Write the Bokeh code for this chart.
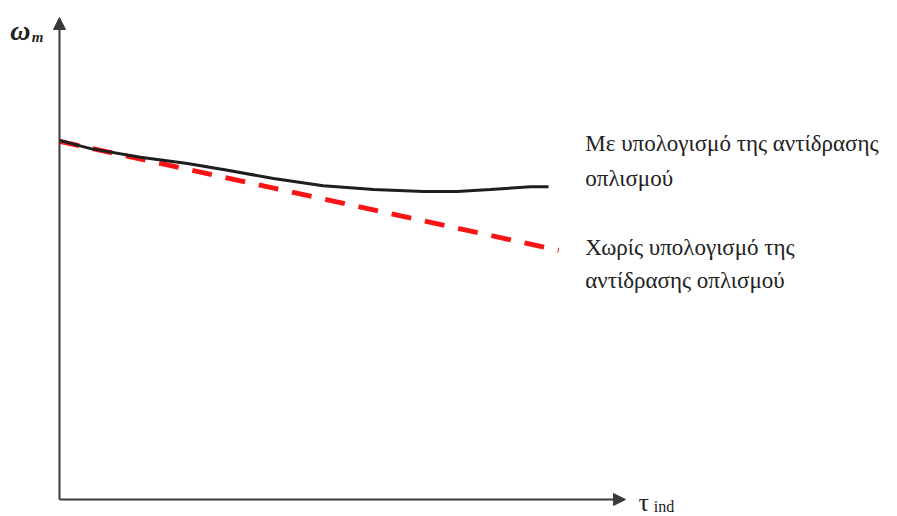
from bokeh.plotting import figure
from bokeh.models import Range1d, Arrow, NormalHead, Label
from bokeh.embed import file_html
from bokeh.resources import INLINE

# Torque (tau_ind) and speed (omega_m) in relative units (0..100)
torque_with_ar = [0, 5.5, 14.3, 22.6, 29.7, 37.8, 46.6, 55.5, 64.3, 70.3, 76.1, 83.2, 86.4]
speed_with_ar = [74.5, 72.8, 71.0, 69.7, 68.3, 66.6, 65.1, 64.3, 63.9, 63.9, 64.3, 64.9, 64.9]

torque_no_ar = [0, 88.2]
speed_no_ar = [74.3, 51.7]

label_with = ["Με υπολογισμό της αντίδρασης", "οπλισμού"]
label_without = ["Χωρίς υπολογισμό της", "αντίδρασης οπλισμού"]

W, H = 897, 516
p = figure(width=W, height=H, output_backend="svg", toolbar_location=None,
           x_range=Range1d(-10.42, 148.06), y_range=Range1d(-3.527, 103.53),
           x_axis_type=None, y_axis_type=None, min_border=0,
           background_fill_color="white", border_fill_color="white")
p.outline_line_color = None
p.xgrid.visible = False
p.ygrid.visible = False

axis_col = "#3a3a3a"
p.add_layout(Arrow(end=NormalHead(size=12, fill_color=axis_col, line_color=axis_col),
                   x_start=0, y_start=0, x_end=100, y_end=0,
                   line_color=axis_col, line_width=2))
p.add_layout(Arrow(end=NormalHead(size=12, fill_color=axis_col, line_color=axis_col),
                   x_start=0, y_start=0, x_end=0, y_end=100,
                   line_color=axis_col, line_width=2))

p.line(torque_no_ar, speed_no_ar, line_color="#fa1414", line_width=5, line_dash="20 14")
p.line(torque_with_ar, speed_with_ar, line_color="#1e1e1e", line_width=3)

font = "'Liberation Serif', 'DejaVu Serif', serif"
fs = "23px"
for txt, y in zip(label_with, [73.86, 66.6]):
    p.add_layout(Label(x=92.9, y=y, text=txt, text_font=font, text_font_size=fs,
                       text_color="#222222", text_baseline="alphabetic"))
for txt, y in zip(label_without, [52.28, 45.44]):
    p.add_layout(Label(x=92.9, y=y, text=txt, text_font=font, text_font_size=fs,
                       text_color="#222222", text_baseline="alphabetic"))

# axis titles
p.add_layout(Label(x=-8.7, y=97.3, text="ω", text_font=font, text_font_size="28px",
                   text_font_style="bold italic", text_color="#222222", text_baseline="alphabetic"))
p.add_layout(Label(x=-4.9, y=95.9, text="m", text_font=font, text_font_size="15px",
                   text_font_style="bold italic", text_color="#222222", text_baseline="alphabetic"))
p.add_layout(Label(x=102.3, y=-0.6, text="τ", text_font=font, text_font_size="26px",
                   text_color="#222222", text_baseline="alphabetic"))
p.add_layout(Label(x=105.0, y=-1.45, text="ind", text_font=font, text_font_size="16px",
                   text_color="#222222", text_baseline="alphabetic"))

open("out.html", "w").write(file_html(p, INLINE))
